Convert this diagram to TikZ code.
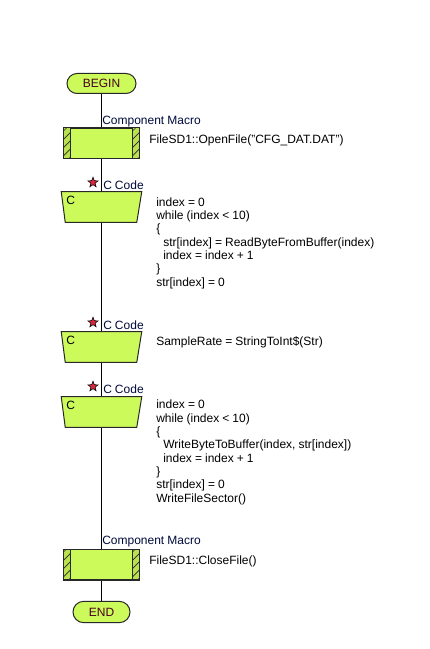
\documentclass[tikz,border=0pt]{standalone}
\usepackage{fontspec}
\setmainfont{Liberation Sans}
\usetikzlibrary{shapes.geometric}
\definecolor{boxfill}{RGB}{204,250,90}
\definecolor{stripfill}{RGB}{185,225,80}
\definecolor{edge}{RGB}{40,40,40}
\definecolor{termtext}{RGB}{70,0,30}
\definecolor{labeltext}{RGB}{0,10,60}
\definecolor{starred}{RGB}{220,40,60}
\pgfdeclarelayer{bg}
\pgfsetlayers{bg,main}
\newcommand\tightspacing{\spaceskip=2.3pt plus 0.5pt\relax}
\newcommand\hatchstrips[1]{%
  \begin{scope}[shift={(#1.north west)}]
    \clip (0,0) rectangle (7,30);
    \fill[stripfill] (0,0) rectangle (7,30);
    \foreach \k in {0,...,4} \draw[edge,line width=0.5pt] (0,\k*8.3+3) -- (7,\k*8.3-4);
  \end{scope}
  \begin{scope}[shift={(#1.north east)}]
    \clip (-7,0) rectangle (0,30);
    \fill[stripfill] (-7,0) rectangle (0,30);
    \foreach \k in {0,...,4} \draw[edge,line width=0.5pt] (-7,\k*8.3+3) -- (0,\k*8.3-4);
  \end{scope}
  \draw[edge,line width=0.75pt] ([xshift=5.25pt]#1.north west) -- ([xshift=5.25pt]#1.south west);
  \draw[edge,line width=0.75pt] ([xshift=-5.25pt]#1.north east) -- ([xshift=-5.25pt]#1.south east);
  \draw[edge,line width=0.75pt] (#1.north west) rectangle (#1.south east);
}
\newcommand\trapbox[1]{%
  \draw[edge,line width=0.75pt,fill=boxfill] (#1.north west) -- (#1.north east)
    -- ([xshift=-3.75pt]#1.south east) -- ([xshift=3pt]#1.south west) -- cycle;
}
\begin{document}
\begin{tikzpicture}[x=0.75pt,y=-0.75pt,
  every node/.style={font={\fontsize{9}{10}\selectfont\tightspacing}, inner sep=0pt},
  term/.style={draw=edge, line width=0.75pt, fill=boxfill, text=termtext},
  macrobox/.style={draw=edge, line width=0.75pt, fill=boxfill, minimum width=56.25pt, minimum height=22.5pt},
  cslot/.style={minimum width=60pt, minimum height=22.5pt},
  lbl/.style={anchor=base west, text=labeltext},
  codetext/.style={anchor=base west, align=left},
  flow/.style={draw=black, line width=0.75pt},
  redstar/.style={star, star points=5, star point ratio=2.4, minimum size=8pt, fill=starred, draw=black, line width=0.4pt},
]
\useasboundingbox (0,0) rectangle (429,649);

% terminals
\node[term, rounded corners=7.5pt, minimum width=51.75pt, minimum height=15pt] (begin) at (101.5,83.5) {BEGIN};
\node[term, rounded corners=8pt, minimum width=42.75pt, minimum height=16pt] (end) at (101.5,612) {END};

% component macros
\node[macrobox] (m1) at (101.5,143.5) {};
\hatchstrips{m1}
\node[lbl] (lm1) at (102,125) {Component Macro};
\node[codetext] (tm1) at (149,143.5) {FileSD1::OpenFile("CFG\_DAT.DAT")};

\node[macrobox] (m2) at (101.5,564.5) {};
\hatchstrips{m2}
\node[lbl] (lm2) at (102,544.5) {Component Macro};
\node[codetext] (tm2) at (149,564.5) {FileSD1::CloseFile()};

% C code blocks (base anchor = baseline of last line)
\node[cslot] (c1) at (101.5,207) {};
\trapbox{c1}
\node[anchor=base west] (cc1) at (66,204) {C};
\node[redstar] (s1) at (93,182.5) {};
\node[lbl] (lc1) at (103,189) {C Code};
\node[codetext] (t1) at (156,286) {index = 0\\while (index < 10)\\\{\\\hspace*{5.25pt}str[index] = ReadByteFromBuffer(index)\\\hspace*{5.25pt}index = index + 1\\\}\\str[index] = 0};

\node[cslot] (c2) at (101.5,347) {};
\trapbox{c2}
\node[anchor=base west] (cc2) at (66,344) {C};
\node[redstar] (s2) at (93,322.5) {};
\node[lbl] (lc2) at (103,329) {C Code};
\node[codetext] (t2) at (156,345.5) {SampleRate = StringToInt\$(Str)};

\node[cslot] (c3) at (101.5,412) {};
\trapbox{c3}
\node[anchor=base west] (cc3) at (66,409) {C};
\node[redstar] (s3) at (93,386.5) {};
\node[lbl] (lc3) at (103,393) {C Code};
\node[codetext] (t3) at (156,502.3) {index = 0\\while (index < 10)\\\{\\\hspace*{5.25pt}WriteByteToBuffer(index, str[index])\\\hspace*{5.25pt}index = index + 1\\\}\\str[index] = 0\\WriteFileSector()};

% connectors
\begin{pgfonlayer}{bg}
\draw[flow] (begin.south) -- (m1.north);
\draw[flow] (m1.south) -- (c1.north);
\draw[flow] (c1.south) -- (c2.north);
\draw[flow] (c2.south) -- (c3.north);
\draw[flow] (c3.south) -- (m2.north);
\draw[flow] (m2.south) -- (end.north);
\end{pgfonlayer}
\end{tikzpicture}
\end{document}
